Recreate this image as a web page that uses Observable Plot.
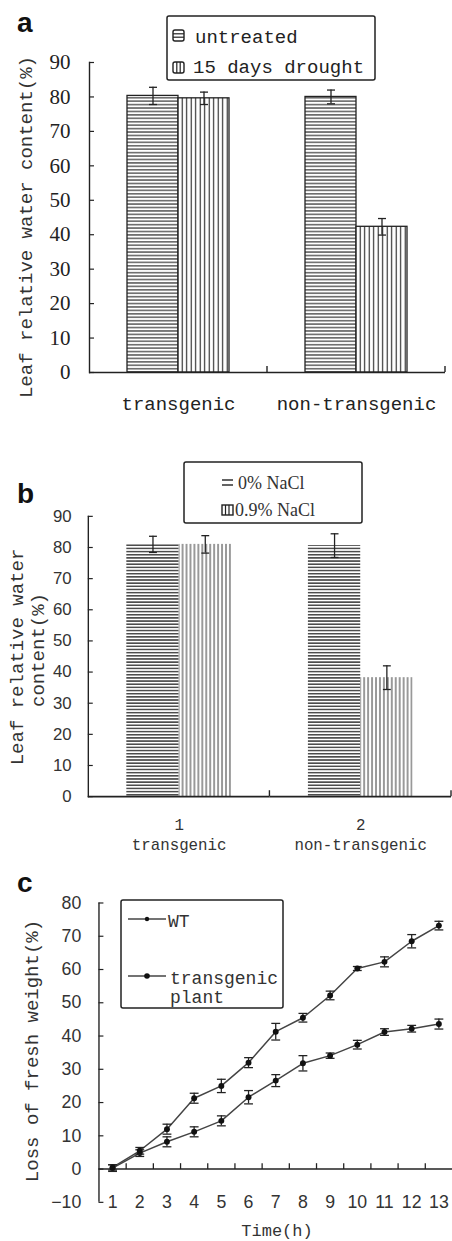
<!DOCTYPE html>
<html>
<head>
<meta charset="utf-8">
<script src="https://cdn.jsdelivr.net/npm/d3@7"></script>
<script src="https://cdn.jsdelivr.net/npm/@observablehq/plot@0.6"></script>
<style>
  html, body { margin: 0; padding: 0; background: #fff; }
  #root { position: relative; width: 452px; height: 1241px; overflow: hidden; background: #fff; }
  #root > svg { position: absolute; left: 0; }
  #overlay { top: 0; pointer-events: none; }
</style>
</head>
<body>
<svg width="0" height="0" style="position:absolute">
  <defs>
    <pattern id="hA" patternUnits="userSpaceOnUse" width="8" height="3.43">
      <rect width="8" height="3.43" fill="#fff"/>
      <line x1="0" x2="8" y1="1.7" y2="1.7" stroke="#222" stroke-width="1.1"/>
    </pattern>
    <pattern id="vA" patternUnits="userSpaceOnUse" width="4.5" height="8">
      <rect width="4.5" height="8" fill="#fff"/>
      <line x1="2.2" x2="2.2" y1="0" y2="8" stroke="#222" stroke-width="1.1"/>
    </pattern>
    <pattern id="hB" patternUnits="userSpaceOnUse" width="8" height="3.2">
      <rect width="8" height="3.2" fill="#fff"/>
      <line x1="0" x2="8" y1="1.6" y2="1.6" stroke="#333" stroke-width="1.4"/>
    </pattern>
    <pattern id="vB" patternUnits="userSpaceOnUse" width="4" height="8">
      <rect width="4" height="8" fill="#fff"/>
      <line x1="1" x2="1" y1="0" y2="8" stroke="#333" stroke-width="1"/>
    </pattern>
  </defs>
</svg>
<div id="root"></div>
<script>
// ---------- data ----------
// Panel a
const categoriesA = ["transgenic", "non-transgenic"];
const treatmentsA = ["untreated", "15 days drought"];
const untreatedA = [80.3, 80.0];
const untreatedErrA = [2.5, 2.0];
const droughtA = [79.6, 42.3];
const droughtErrA = [1.8, 2.4];
const yTicksA = [0, 10, 20, 30, 40, 50, 60, 70, 80, 90];

// Panel b
const categoriesB = ["transgenic", "non-transgenic"];
const groupNumbersB = ["1", "2"];
const treatmentsB = ["0% NaCl", "0.9% NaCl"];
const salt0B = [81.0, 80.6];
const salt0ErrB = [2.6, 3.8];
const salt09B = [81.0, 38.2];
const salt09ErrB = [2.8, 3.8];
const yTicksB = [0, 10, 20, 30, 40, 50, 60, 70, 80, 90];

// Panel c
const times = [1, 2, 3, 4, 5, 6, 7, 8, 9, 10, 11, 12, 13];
const wtValues = [0.5, 5.5, 12.0, 21.3, 25.0, 32.0, 41.3, 45.5, 52.2, 60.3, 62.3, 68.5, 73.2];
const wtErr = [0.8, 1.0, 1.5, 1.5, 2.0, 1.5, 2.5, 1.3, 1.3, 0.6, 1.5, 2.0, 1.3];
const tgValues = [0.3, 4.8, 8.2, 11.2, 14.5, 21.6, 26.6, 31.8, 34.1, 37.4, 41.2, 42.2, 43.6];
const tgErr = [1.0, 1.0, 1.5, 1.5, 1.5, 2.0, 1.8, 2.3, 0.8, 1.3, 1.0, 1.0, 1.5];
const yTicksC = [-10, 0, 10, 20, 30, 40, 50, 60, 70, 80];
const seriesC = ["WT", "transgenic plant"];

// ---------- styles ----------
const INK = "#222";
const MONO = "'Liberation Mono', 'DejaVu Sans Mono', monospace";
const SERIF = "'Liberation Serif', 'DejaVu Serif', serif";
const SANS = "'Liberation Sans', Arial, sans-serif";

const capSymbol = { draw(ctx, size) { const r = Math.sqrt(size / Math.PI); ctx.moveTo(-r, 0); ctx.lineTo(r, 0); } };
const upTick = { draw(ctx, size) { const r = Math.sqrt(size / Math.PI); ctx.moveTo(0, 0); ctx.lineTo(0, -r); } };

// tick at the right boundary of each facet, on the baseline
function facetBoundaryTicks(index, scales, values, dimensions) {
  const x = dimensions.width - dimensions.marginRight;
  const y0 = scales.y(0);
  const g = d3.create("svg:g");
  g.append("line").attr("x1", x).attr("x2", x).attr("y1", y0).attr("y2", y0 - 6)
    .attr("stroke", INK).attr("stroke-width", 1.4);
  return g.node();
}

const root = document.getElementById("root");

// ---------- Panel a ----------
const dataA = categoriesA.flatMap((c, i) => [
  {cat: c, treat: treatmentsA[0], value: untreatedA[i], err: untreatedErrA[i]},
  {cat: c, treat: treatmentsA[1], value: droughtA[i], err: droughtErrA[i]}
]);

const plotA = Plot.plot({
  width: 452, height: 430,
  marginTop: 62, marginBottom: 58, marginLeft: 89, marginRight: 7,
  style: {color: INK, background: "transparent"},
  fx: {domain: categoriesA, padding: 0, label: null},
  x: {domain: treatmentsA, paddingInner: 0, paddingOuter: 0.72, axis: null},
  y: {domain: [0, 90]},
  marks: [
    Plot.barY(dataA.filter(d => d.treat === treatmentsA[0]), {fx: "cat", x: "treat", y: "value", fill: "url(#hA)", stroke: INK, strokeWidth: 1.3}),
    Plot.barY(dataA.filter(d => d.treat === treatmentsA[1]), {fx: "cat", x: "treat", y: "value", fill: "url(#vA)", stroke: INK, strokeWidth: 1.3}),
    Plot.ruleX(dataA, {fx: "cat", x: "treat", y1: d => d.value - d.err, y2: d => d.value + d.err, stroke: INK, strokeWidth: 1.3}),
    Plot.dot(dataA, {fx: "cat", x: "treat", y: d => d.value - d.err, symbol: capSymbol, r: 4, fill: "none", stroke: INK, strokeWidth: 1.3}),
    Plot.dot(dataA, {fx: "cat", x: "treat", y: d => d.value + d.err, symbol: capSymbol, r: 4, fill: "none", stroke: INK, strokeWidth: 1.3}),
    Plot.ruleY([0], {stroke: INK, strokeWidth: 1.4}),
    facetBoundaryTicks,
    Plot.frame({anchor: "left", facetAnchor: "left", stroke: INK, strokeWidth: 1.4}),
    Plot.axisY({ticks: yTicksA, tickSize: 5, dx: 5, tickFormat: () => "", label: null, stroke: INK, strokeWidth: 1.2}),
    Plot.axisY({ticks: yTicksA, tickSize: 0, tickPadding: 19, fontSize: 21, fontFamily: SERIF, fill: INK, label: null}),
    Plot.axisFx({anchor: "bottom", tickSize: 0, tickPadding: 24, fontSize: 19, fontFamily: MONO, fill: INK, label: null})
  ]
});
plotA.style.top = "0px";
root.appendChild(plotA);

// ---------- Panel b ----------
const dataB = categoriesB.flatMap((c, i) => [
  {cat: c, treat: treatmentsB[0], value: salt0B[i], err: salt0ErrB[i]},
  {cat: c, treat: treatmentsB[1], value: salt09B[i], err: salt09ErrB[i]}
]);

const plotB = Plot.plot({
  width: 458, height: 440,
  marginTop: 87, marginBottom: 69, marginLeft: 89, marginRight: 1,
  style: {color: INK, background: "transparent"},
  fx: {domain: categoriesB, padding: 0, label: null},
  x: {domain: treatmentsB, paddingInner: 0, paddingOuter: 0.72, axis: null},
  y: {domain: [0, 90]},
  marks: [
    Plot.barY(dataB.filter(d => d.treat === treatmentsB[0]), {fx: "cat", x: "treat", y: "value", fill: "url(#hB)"}),
    Plot.barY(dataB.filter(d => d.treat === treatmentsB[1]), {fx: "cat", x: "treat", y: "value", fill: "url(#vB)"}),
    Plot.ruleX(dataB, {fx: "cat", x: "treat", y1: d => d.value - d.err, y2: d => d.value + d.err, stroke: INK, strokeWidth: 1.3}),
    Plot.dot(dataB, {fx: "cat", x: "treat", y: d => d.value - d.err, symbol: capSymbol, r: 4, fill: "none", stroke: INK, strokeWidth: 1.3}),
    Plot.dot(dataB, {fx: "cat", x: "treat", y: d => d.value + d.err, symbol: capSymbol, r: 4, fill: "none", stroke: INK, strokeWidth: 1.3}),
    Plot.ruleY([0], {stroke: INK, strokeWidth: 1.6}),
    facetBoundaryTicks,
    Plot.frame({anchor: "left", facetAnchor: "left", stroke: INK, strokeWidth: 1.4}),
    Plot.axisY({ticks: yTicksB, tickSize: 5, dx: 5, tickFormat: () => "", label: null, stroke: INK, strokeWidth: 1.2}),
    Plot.axisY({ticks: yTicksB, tickSize: 0, tickPadding: 17, fontSize: 17, fontFamily: SANS, fill: "#333", label: null}),
    Plot.axisFx({anchor: "bottom", tickSize: 0, tickPadding: 20, fontSize: 16, lineHeight: 1.25, fontFamily: MONO, fill: "#333", label: null,
      tickFormat: d => `${groupNumbersB[categoriesB.indexOf(d)]}\n${d}`})
  ]
});
plotB.style.top = "430px";
root.appendChild(plotB);

// ---------- Panel c ----------
const dataWT = times.map((t, i) => ({t, v: wtValues[i], e: wtErr[i]}));
const dataTG = times.map((t, i) => ({t, v: tgValues[i], e: tgErr[i]}));
const xDomainC = [times[0] - 0.5, times[times.length - 1] + 0.5];
const boundaryTicksC = times.slice(0, -1).map(t => t + 0.5);

function seriesMarks(data, r) {
  return [
    Plot.lineY(data, {x: "t", y: "v", stroke: "#444", strokeWidth: 1.5}),
    Plot.ruleX(data, {x: "t", y1: d => d.v - d.e, y2: d => d.v + d.e, stroke: INK, strokeWidth: 1.3}),
    Plot.dot(data, {x: "t", y: d => d.v - d.e, symbol: capSymbol, r: 4.5, fill: "none", stroke: INK, strokeWidth: 1.3}),
    Plot.dot(data, {x: "t", y: d => d.v + d.e, symbol: capSymbol, r: 4.5, fill: "none", stroke: INK, strokeWidth: 1.3}),
    Plot.dot(data, {x: "t", y: "v", r, fill: "#111"})
  ];
}

const plotC = Plot.plot({
  width: 459, height: 371,
  marginTop: 33, marginBottom: 34, marginLeft: 100, marginRight: 0,
  style: {color: INK, background: "transparent"},
  x: {domain: xDomainC, axis: null},
  y: {domain: [yTicksC[0], yTicksC[yTicksC.length - 1]]},
  marks: [
    Plot.ruleX([xDomainC[0]], {stroke: INK, strokeWidth: 1.4}),
    Plot.ruleY([0], {stroke: INK, strokeWidth: 1.5}),
    Plot.dot(boundaryTicksC, {x: d => d, y: () => 0, symbol: upTick, r: 6, fill: "none", stroke: INK, strokeWidth: 1.3}),
    Plot.axisY({ticks: yTicksC, tickSize: 5, dx: 5, tickFormat: () => "", label: null, stroke: INK, strokeWidth: 1.2}),
    Plot.axisY({ticks: yTicksC, tickSize: 0, tickPadding: 18, fontSize: 18, fontFamily: SANS, fill: "#333", label: null}),
    Plot.text(times, {x: d => d, y: () => yTicksC[0], text: d => String(d), fontSize: 18, fontFamily: SANS, fill: "#333", lineAnchor: "middle"}),
    ...seriesMarks(dataTG, 3),
    ...seriesMarks(dataWT, 3)
  ]
});
plotC.style.top = "870px";
root.appendChild(plotC);

// ---------- overlay: panel letters, legends, axis titles ----------
const ov = d3.create("svg").attr("id", "overlay").attr("width", 452).attr("height", 1241);
function txt(x, y, s, opts = {}) {
  const t = ov.append("text").attr("x", x).attr("y", y).text(s)
    .attr("font-family", opts.family || MONO).attr("font-size", opts.size || 19)
    .attr("fill", opts.fill || INK);
  if (opts.weight) t.attr("font-weight", opts.weight);
  if (opts.anchor) t.attr("text-anchor", opts.anchor);
  if (opts.rotate) t.attr("transform", `rotate(-90 ${x} ${y})`).attr("dominant-baseline", "central");
  return t;
}
// panel letters
txt(17, 32, "a", {family: SANS, size: 28, weight: "bold", fill: "#111"});
txt(17, 503, "b", {family: SANS, size: 28, weight: "bold", fill: "#111"});
txt(17, 892, "c", {family: SANS, size: 28, weight: "bold", fill: "#111"});

// axis titles
txt(27, 227, "Leaf relative water content(%)", {rotate: true, anchor: "middle", size: 19, fill: "#333"});
txt(18, 657, "Leaf relative water", {rotate: true, anchor: "middle", size: 19, fill: "#333"});
txt(39, 650, "content(%)", {rotate: true, anchor: "middle", size: 19, fill: "#333"});
txt(33, 1051, "Loss of fresh weight(%)", {rotate: true, anchor: "middle", size: 19, fill: "#333"});
txt(277, 1236, "Time(h)", {anchor: "middle", size: 17, fill: "#333"});

// legend a
ov.append("rect").attr("x", 167).attr("y", 16).attr("width", 208).attr("height", 64).attr("rx", 2)
  .attr("fill", "none").attr("stroke", INK).attr("stroke-width", 1.5);
ov.append("rect").attr("x", 173).attr("y", 30).attr("width", 11).attr("height", 11).attr("rx", 2)
  .attr("fill", "#fff").attr("stroke", INK).attr("stroke-width", 1.4);
[33.8, 37.2].forEach(y => ov.append("line").attr("x1", 173).attr("x2", 184).attr("y1", y).attr("y2", y).attr("stroke", INK).attr("stroke-width", 1.2));
ov.append("rect").attr("x", 173).attr("y", 62).attr("width", 11).attr("height", 11).attr("rx", 2)
  .attr("fill", "#fff").attr("stroke", INK).attr("stroke-width", 1.4);
[176.8, 180.2].forEach(x => ov.append("line").attr("x1", x).attr("x2", x).attr("y1", 62).attr("y2", 73).attr("stroke", INK).attr("stroke-width", 1.2));
txt(195, 43, treatmentsA[0], {size: 19});
txt(193, 73, treatmentsA[1], {size: 19});

// legend b
ov.append("rect").attr("x", 184).attr("y", 462).attr("width", 178).attr("height", 61).attr("rx", 2)
  .attr("fill", "none").attr("stroke", INK).attr("stroke-width", 1.5);
[480, 485].forEach(y => ov.append("line").attr("x1", 222).attr("x2", 233).attr("y1", y).attr("y2", y).attr("stroke", INK).attr("stroke-width", 1.4));
txt(238, 489, treatmentsB[0], {family: SERIF, size: 18, fill: "#333"});
ov.append("rect").attr("x", 222).attr("y", 505).attr("width", 11).attr("height", 10)
  .attr("fill", "#fff").attr("stroke", INK).attr("stroke-width", 1.4);
[225.5, 229].forEach(x => ov.append("line").attr("x1", x).attr("x2", x).attr("y1", 505).attr("y2", 515).attr("stroke", INK).attr("stroke-width", 1.2));
txt(235, 516, treatmentsB[1], {family: SERIF, size: 18, fill: "#333"});

// legend c
ov.append("rect").attr("x", 121).attr("y", 900).attr("width", 162).attr("height", 108).attr("rx", 2)
  .attr("fill", "none").attr("stroke", INK).attr("stroke-width", 1.5);
[[919, 2.2], [976, 2.8]].forEach(([y, r]) => {
  ov.append("line").attr("x1", 128).attr("x2", 166).attr("y1", y).attr("y2", y).attr("stroke", "#444").attr("stroke-width", 1.4);
  ov.append("circle").attr("cx", 147).attr("cy", y).attr("r", r).attr("fill", "#111");
});
txt(168, 927, seriesC[0], {size: 18, fill: "#333"});
txt(170, 984, seriesC[1].split(" ")[0], {size: 18, fill: "#333"});
txt(170, 1003, seriesC[1].split(" ")[1], {size: 18, fill: "#333"});

root.appendChild(ov.node());
</script>
</body>
</html>
